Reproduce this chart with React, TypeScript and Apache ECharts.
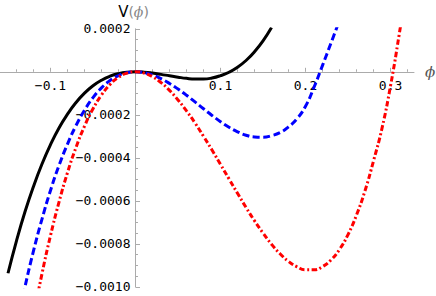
import React, { useEffect, useRef } from "react";
import * as echarts from "echarts";

// φ values and V(φ)
const phiBlack = [-0.15, -0.14, -0.13, -0.12, -0.11, -0.1, -0.09, -0.08, -0.07, -0.06, -0.05, -0.04, -0.03, -0.02, -0.01, 0, 0.01, 0.02, 0.03, 0.04, 0.05, 0.06, 0.07, 0.08, 0.09, 0.1, 0.11, 0.12, 0.13, 0.14, 0.15, 0.16];
const vBlack = [-0.000937, -0.000786, -0.000651, -0.000533, -0.000429, -0.000339, -0.000261, -0.000197, -0.000143, -0.0000992, -0.0000649, -0.000039, -0.0000205, -0.0000085, -0.00000196, 0, -0.00000164, -0.00000592, -0.0000119, -0.0000185, -0.0000249, -0.0000305, -0.0000335, -0.0000335, -0.0000289, -0.0000181, -0.0000021, 0.0000211, 0.0000526, 0.0000933, 0.000144, 0.000206];

const phiBlue = [-0.14, -0.13, -0.12, -0.11, -0.1, -0.09, -0.08, -0.07, -0.06, -0.05, -0.04, -0.03, -0.02, -0.01, 0, 0.01, 0.02, 0.03, 0.04, 0.05, 0.06, 0.07, 0.08, 0.09, 0.1, 0.11, 0.12, 0.13, 0.14, 0.15, 0.16, 0.17, 0.18, 0.19, 0.2, 0.21, 0.22, 0.23, 0.24];
const vBlue = [-0.001184, -0.001, -0.000833, -0.000685, -0.000552, -0.000436, -0.000336, -0.00025, -0.000179, -0.00012, -0.0000747, -0.0000407, -0.0000175, -0.0000042, 0, -0.0000039, -0.0000149, -0.000032, -0.0000542, -0.0000804, -0.000109, -0.00014, -0.000172, -0.000203, -0.000232, -0.000258, -0.000279, -0.000295, -0.000303, -0.000304, -0.000297, -0.000283, -0.000256, -0.000218, -0.00016, -0.000072, 0.00003, 0.000134, 0.00024];

const phiRed = [-0.12, -0.11, -0.1, -0.09, -0.08, -0.07, -0.06, -0.05, -0.04, -0.03, -0.02, -0.01, 0, 0.01, 0.02, 0.03, 0.04, 0.05, 0.06, 0.07, 0.08, 0.09, 0.1, 0.11, 0.12, 0.13, 0.14, 0.15, 0.16, 0.17, 0.18, 0.19, 0.2, 0.21, 0.22, 0.23, 0.24, 0.25, 0.26, 0.27, 0.28, 0.29, 0.3, 0.31, 0.32];
const vRed = [-0.001137, -0.000939, -0.000762, -0.000606, -0.000469, -0.000352, -0.000253, -0.000172, -0.000108, -0.0000591, -0.0000256, -0.0000062, 0, -0.0000059, -0.000023, -0.0000502, -0.0000864, -0.000131, -0.000182, -0.000238, -0.0003, -0.000364, -0.000431, -0.000498, -0.000565, -0.000631, -0.000693, -0.00075, -0.000802, -0.000846, -0.000882, -0.000907, -0.000921, -0.000921, -0.000906, -0.000875, -0.000826, -0.000757, -0.000666, -0.000553, -0.000414, -0.000262, -0.000065, 0.000169, 0.000425];

const xTickValues = [-0.1, 0, 0.1, 0.2, 0.3];
const xLabelValues = [-0.1, 0.1, 0.2, 0.3];
const xMin = -0.1594;
const xMax = 0.3276;
const yMin = -0.001;
const yMax = 0.0002;
const yStep = 0.0002;

const zip = (xs: number[], ys: number[]) => xs.map((x, i) => [x, ys[i]]);

const AXIS_GRAY = "#ababab";
const MONO = "DejaVu Sans Mono";

// layout of the plot area (pixels)
const GRID = { left: 0, right: 22, top: 28.8, bottom: 9.2 };
const W = 436;
const H = 296;

export default function App() {
  const ref = useRef<HTMLDivElement>(null);
  useEffect(() => {
    document.body.style.margin = "0";
    if (!ref.current) return;
    const chart = echarts.init(ref.current, null, { renderer: "svg" });
    const plotW = W - GRID.left - GRID.right;
    const plotH = H - GRID.top - GRID.bottom;
    // distance of the zero lines from the grid's left / bottom edge
    const yAxisOffset = -((0 - xMin) / (xMax - xMin)) * plotW;
    const xAxisOffset = -((0 - yMin) / (yMax - yMin)) * plotH;
    const line = (data: number[][], color: string, dash: any, z: number) => ({
      type: "line",
      data,
      showSymbol: false,
      symbol: "none",
      smooth: true,
      clip: true,
      z,
      lineStyle: { color, width: 3, type: dash, cap: "butt" },
    });
    chart.setOption({
      animation: false,
      grid: { ...GRID, containLabel: false, outerBoundsMode: "none" },
      xAxis: {
        type: "value",
        position: "bottom",
        offset: xAxisOffset,
        min: xMin,
        max: xMax,
        name: "ϕ",
        nameLocation: "end",
        nameGap: 11,
        nameTextStyle: {
          fontFamily: "DejaVu Serif",
          fontStyle: "italic",
          fontSize: 15,
          color: "#555",
          verticalAlign: "middle",
          padding: [6, 0, 0, 0],
        },
        axisLine: { show: true, onZero: false, lineStyle: { color: AXIS_GRAY, width: 1 } },
        axisTick: {
          show: true,
          inside: true,
          length: 4,
          customValues: xTickValues,
          lineStyle: { color: AXIS_GRAY },
        },
        minorTick: { show: true, splitNumber: 5, length: 2.5, lineStyle: { color: AXIS_GRAY } },
        axisLabel: {
          customValues: xLabelValues,
          margin: 7,
          fontFamily: MONO,
          fontSize: 13,
          color: "#000",
          formatter: (v: number) => {
            const r = Math.round(v * 10);
            if (Math.abs(v * 10 - r) > 1e-6 || r === 0) return "";
            return (v < 0 ? "\u2212" : "") + Math.abs(v).toFixed(1);
          },
        },
        splitLine: { show: false },
      },
      yAxis: {
        type: "value",
        position: "left",
        offset: yAxisOffset,
        min: yMin,
        max: yMax,
        interval: yStep,
        name: "{v|V}{p|(}{f|ϕ}{p|)}",
        nameLocation: "end",
        nameGap: 9,
        nameTextStyle: {
          align: "center",
          padding: [0, 4, 0, 0],
          rich: {
            v: { fontFamily: "DejaVu Sans", fontSize: 15, color: "#000" },
            p: { fontFamily: "DejaVu Sans", fontSize: 14, color: "#888" },
            f: { fontFamily: "DejaVu Serif", fontStyle: "italic", fontSize: 14, color: "#888" },
          },
        },
        axisLine: { show: true, onZero: false, lineStyle: { color: AXIS_GRAY, width: 1 } },
        axisTick: { show: true, inside: true, length: 4.5, lineStyle: { color: AXIS_GRAY } },
        minorTick: { show: true, splitNumber: 4, length: 2.5, lineStyle: { color: AXIS_GRAY } },
        axisLabel: {
          margin: 5,
          fontFamily: MONO,
          fontSize: 13,
          color: "#000",
          showMinLabel: true,
          showMaxLabel: true,
          formatter: (v: number) => {
            if (Math.abs(v) < 1e-12) return "";
            return (v < 0 ? "\u2212" : "") + Math.abs(v).toFixed(4);
          },
        },
        splitLine: { show: false },
      },
      series: [
        line(zip(phiBlack, vBlack), "#000000", "solid", 2),
        line(zip(phiBlue, vBlue), "#0000ff", [7, 3.5], 3),
        line(zip(phiRed, vRed), "#ff0000", [5.5, 2.5, 2, 2.5], 4),
      ],
    });
    return () => chart.dispose();
  }, []);
  return <div ref={ref} style={{ width: W, height: H }} />;
}
